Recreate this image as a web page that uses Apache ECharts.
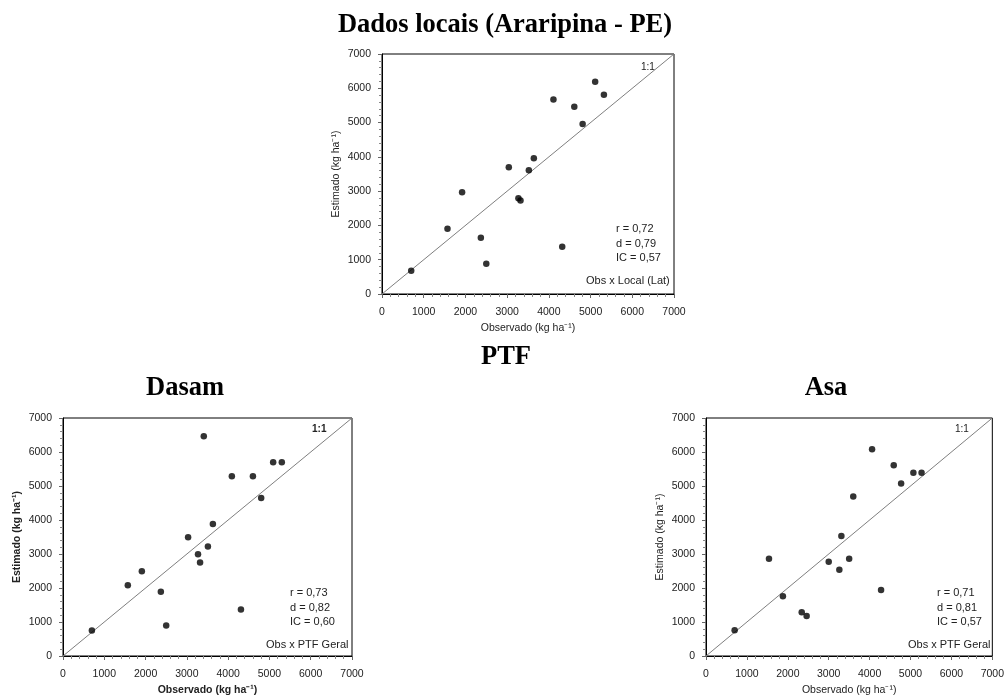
<!DOCTYPE html>
<html>
<head>
<meta charset="utf-8">
<script src="https://cdn.jsdelivr.net/npm/echarts@6/dist/echarts.min.js"></script>
<style>
  html, body { margin: 0; padding: 0; background: #fff; }
  #chart { width: 1007px; height: 697px; }
</style>
</head>
<body>
<div id="chart"></div>
<script>
// Dados locais (Araripina - PE)
var localObs = [700, 1570, 1920, 2370, 2500, 3040, 3270, 3320, 3520, 3640, 4110, 4320, 4610, 4810, 5110, 5320];
var localEst = [680, 1900, 2970, 1640, 880, 3700, 2790, 2730, 3610, 3960, 5670, 1380, 5460, 4960, 6190, 5810];
// PTF Dasam
var dasamObs = [700, 1570, 1910, 2370, 2500, 3030, 3270, 3320, 3410, 3510, 3630, 4090, 4310, 4600, 4800, 5090, 5300];
var dasamEst = [750, 2080, 2490, 1890, 900, 3490, 2990, 2750, 6460, 3220, 3880, 5290, 1370, 5290, 4650, 5700, 5700];
// PTF Asa
var asaObs = [700, 1540, 1880, 2340, 2460, 3000, 3260, 3310, 3500, 3600, 4060, 4280, 4590, 4770, 5070, 5270];
var asaEst = [760, 2860, 1760, 1290, 1180, 2770, 2540, 3530, 2860, 4690, 6080, 1940, 5610, 5070, 5390, 5390];
// linha 1:1
var lineOneToOne = [0, 7000];
var stats = {
  local: ['r = 0,72', 'd = 0,79', 'IC = 0,57'],
  dasam: ['r = 0,73', 'd = 0,82', 'IC = 0,60'],
  asa: ['r = 0,71', 'd = 0,81', 'IC = 0,57']
};

var FONT = 'Liberation Sans';

function pares(xs, ys) {
  return xs.map(function (x, i) { return [x, ys[i]]; });
}

function eixo(nome, tipo, negrito) {
  return {
    type: 'value',
    min: 0,
    max: 7000,
    interval: 1000,
    name: nome,
    nameLocation: 'middle',
    nameGap: tipo === 'x' ? 29 : 40,
    nameTextStyle: {color: '#222', fontSize: 10.5, fontFamily: FONT, fontWeight: negrito ? 'bold' : 'normal'},
    axisLine: {show: true, lineStyle: {color: '#000', width: 1}},
    axisTick: {show: true, inside: false, length: 4, lineStyle: {color: '#666'}},
    minorTick: {show: true, splitNumber: 5, length: 3, lineStyle: {color: '#888'}},
    axisLabel: {
      color: '#222',
      fontSize: 10.5,
      fontFamily: FONT,
      margin: tipo === 'x' ? 13 : 11,
      formatter: function (v) { return String(v); }
    },
    splitLine: {show: false},
    minorSplitLine: {show: false}
  };
}

var grids = [
  {left: 382, top: 54, width: 292, height: 240},
  {left: 63, top: 418, width: 289, height: 239},
  {left: 706, top: 418, width: 291, height: 239}
];
grids.forEach(function (g) {
  g.show = true;
  g.borderColor = '#000';
  g.borderWidth = 1;
  g.backgroundColor = 'transparent';
});

var nomeX = 'Observado (kg ha\u207B\u00B9)';
var nomeY = 'Estimado (kg ha\u207B\u00B9)';

var xAxes = [0, 1, 2].map(function (i) {
  var a = eixo(nomeX, 'x', i === 1);
  a.gridIndex = i;
  return a;
});
var yAxes = [0, 1, 2].map(function (i) {
  var a = eixo(nomeY, 'y', i === 1);
  a.gridIndex = i;
  return a;
});

var conjuntos = [pares(localObs, localEst), pares(dasamObs, dasamEst), pares(asaObs, asaEst)];
var series = [];
conjuntos.forEach(function (dados, i) {
  series.push({
    type: 'line',
    xAxisIndex: i,
    yAxisIndex: i,
    data: pares(lineOneToOne, lineOneToOne),
    symbol: 'none',
    lineStyle: {color: '#7f7f7f', width: 1},
    silent: true,
    z: 1
  });
  series.push({
    type: 'scatter',
    xAxisIndex: i,
    yAxisIndex: i,
    data: dados,
    symbol: 'circle',
    symbolSize: 6.5,
    itemStyle: {color: '#000'},
    z: 3
  });
});

function texto(t, x, y, opts) {
  opts = opts || {};
  return {
    type: 'text',
    x: x,
    y: y,
    style: {
      text: t,
      fill: opts.fill || '#222',
      font: (opts.bold ? 'bold ' : '') + (opts.size || 11) + 'px ' + (opts.family || FONT),
      textAlign: opts.align || 'left',
      textVerticalAlign: 'middle'
    },
    z: 10
  };
}

function titulo(t, x, y) {
  return texto(t, x, y, {bold: true, size: 26.5, family: '"Liberation Serif"', align: 'center', fill: '#000'});
}

function estatisticas(linhas, x, y0, rotulo, xr, y11, x11, negrito) {
  var els = linhas.map(function (l, k) { return texto(l, x, y0 + k * 14.6); });
  els.push(texto(rotulo, xr, y0 + 51.5));
  els.push(texto('1:1', x11, y11, {size: 10, bold: negrito}));
  return els;
}

var graficos = [
  titulo('Dados locais (Araripina - PE)', 505, 25),
  titulo('PTF', 506, 357),
  titulo('Dasam', 185, 388),
  titulo('Asa', 826, 388)
].concat(
  estatisticas(stats.local, 616, 229, 'Obs x Local (Lat)', 586, 67, 641, false),
  estatisticas(stats.dasam, 290, 593, 'Obs x PTF Geral', 266, 429, 312, true),
  estatisticas(stats.asa, 937, 593, 'Obs x PTF Geral', 908, 429, 955, false)
);

var chart = echarts.init(document.getElementById('chart'));
chart.setOption({
  backgroundColor: '#fff',
  animation: false,
  grid: grids,
  xAxis: xAxes,
  yAxis: yAxes,
  series: series,
  graphic: graficos
});
</script>
</body>
</html>
